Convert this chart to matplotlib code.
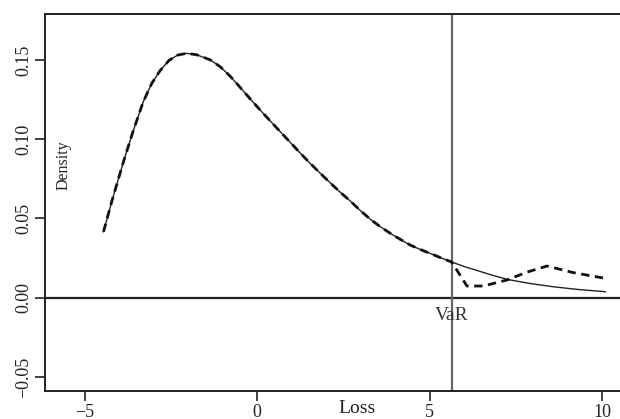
import matplotlib
matplotlib.use("Agg")
import matplotlib.pyplot as plt

plt.rcParams['font.family'] = ['Liberation Serif', 'DejaVu Serif']

# Data
loss = [-4.45, -4.2, -3.875, -3.6, -3.30, -3.05, -2.81, -2.55, -2.30, -2.04,
        -1.75, -1.36, -1.07, -0.78, -0.49, -0.2, 0.09, 0.38, 0.67, 0.96,
        1.25, 1.54, 1.83, 2.12, 2.41, 2.70, 3.0, 3.28, 3.57, 3.86, 4.15,
        4.43, 4.72, 5.01, 5.3, 5.64, 6.0, 6.4, 6.8, 7.24, 7.9, 8.59, 9.3,
        10.09]
density = [0.0416, 0.0615, 0.0855, 0.1045, 0.1235, 0.1352, 0.1432, 0.1497,
           0.1530, 0.1541, 0.1532, 0.1500, 0.1457, 0.1397, 0.1326, 0.1254,
           0.1183, 0.1115, 0.1047, 0.0980, 0.0912, 0.0847, 0.0785, 0.0724,
           0.0665, 0.0610, 0.0548, 0.0495, 0.0448, 0.0406, 0.0368, 0.0333,
           0.0305, 0.0280, 0.0254, 0.0225, 0.0197, 0.0170, 0.0143, 0.0116,
           0.0090, 0.0069, 0.0052, 0.0038]

# Dashed curve: same as density up to VaR, then diverges
tail_x = [6.08, 6.56, 7.24, 7.8, 8.40, 9.17, 10.09]
tail_y = [0.0074, 0.0074, 0.0112, 0.016, 0.020, 0.0158, 0.0122]

var_value = 5.64

xticks = [-5, 0, 5, 10]
yticks = [-0.05, 0.00, 0.05, 0.10, 0.15]
ytick_labels = ["\u22120.05", "0.00", "0.05", "0.10", "0.15"]
xtick_labels = ["\u22125", "0", "5", "10"]

fig = plt.figure(figsize=(6.2, 4.19), dpi=100)
ax = fig.add_axes([45/620, 28/419, 580/620, 377/419])
ax.set_xlim(-6.145, 10.66)
ax.set_ylim(-0.0588, 0.1789)

ax.axhline(0, color='#222222', lw=1.6, zorder=1)
ax.axvline(var_value, color='#666666', lw=1.6, zorder=1)

ax.plot(loss, density, color='#222222', lw=1.0, zorder=3)
dx = [x for x in loss if x <= var_value] + tail_x
dy = [y for x, y in zip(loss, density) if x <= var_value] + tail_y
ax.plot(dx, dy, color='#111111', lw=2.0, ls=(0, (3, 2)), zorder=4)

ax.text(var_value, -0.011, "VaR", ha='center', va='center', fontsize=14,
        color='#333333')
ax.text(-5.62, 0.0837, "Density", rotation=90, ha='center', va='center',
        fontsize=11.5, color='#222222')
fig.text(357/620, 1 - 408/419, "Loss", ha='center', va='center',
         fontsize=14, color='#222222')

ax.set_xticks(xticks)
ax.set_xticklabels(xtick_labels)
ax.set_yticks(yticks)
ax.set_yticklabels(ytick_labels, rotation=90, va='center')
ax.tick_params(axis='both', direction='out', length=7, width=1.2,
               labelsize=13, colors='#222222')
ax.tick_params(axis='x', pad=2)
ax.tick_params(axis='y', pad=2)

for side in ['left', 'bottom', 'top']:
    ax.spines[side].set_linewidth(1.4)
    ax.spines[side].set_color('#222222')
ax.spines['right'].set_visible(False)

fig.savefig("out.png", dpi=100)
